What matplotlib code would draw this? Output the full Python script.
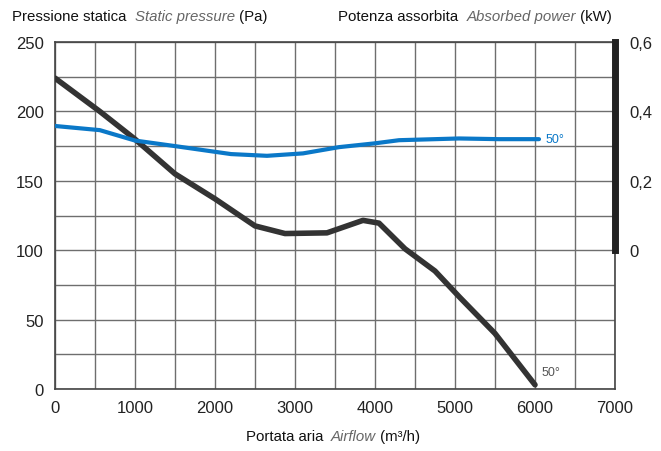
import matplotlib
matplotlib.use("Agg")
import matplotlib.pyplot as plt
from matplotlib import font_manager
from matplotlib.offsetbox import TextArea, HPacker, AnnotationBbox

# fan curve data
flow_pressure = [0, 560, 1000, 1500, 2000, 2500, 2875, 3400, 3850, 4050, 4375, 4750, 5060, 5500, 6000]
static_pressure = [224, 200, 180, 155, 137, 117.5, 112, 112.5, 121.5, 119.5, 101, 85, 66, 40, 3]

flow_power = [0, 560, 1000, 1500, 2200, 2650, 3100, 3550, 4000, 4300, 5050, 5550, 6050]
absorbed_power = [0.358, 0.346, 0.316, 0.300, 0.277, 0.272, 0.279, 0.297, 0.308, 0.317, 0.322, 0.320, 0.320]

x_ticks = [0, 1000, 2000, 3000, 4000, 5000, 6000, 7000]
p_ticks = [0, 50, 100, 150, 200, 250]
kw_ticks = [0, 0.2, 0.4, 0.6]
kw_labels = ["0", "0,2", "0,4", "0,6"]

names = {f.name for f in font_manager.fontManager.ttflist}
fam = "Liberation Sans Narrow" if "Liberation Sans Narrow" in names else "Liberation Sans"
narrow = fam == "Liberation Sans Narrow"
plt.rcParams['font.family'] = [fam, 'DejaVu Sans']

BLUE = "#0a78c8"
DARK = "#333333"
GRID = "#6e6e6e"
TITLE_SIZE = 13 if narrow else 10.8

fig = plt.figure(figsize=(6.61, 4.52), dpi=100)
ax = fig.add_axes([55 / 661, 62 / 452, 560 / 661, 347 / 452])

ax.set_xlim(0, 7000)
ax.set_ylim(0, 250)
ax.set_xticks(range(0, 7001, 500), minor=True)
ax.set_yticks(range(0, 251, 25), minor=True)
ax.set_xticks(x_ticks)
ax.set_yticks(p_ticks)
ax.grid(True, which='both', color=GRID, lw=1)
ax.tick_params(which='both', length=0, labelsize=12, colors="#222222")
ax.tick_params(axis='x', pad=8)
ax.tick_params(axis='y', pad=8)
for s in ax.spines.values():
    s.set_color("#444444")
    s.set_linewidth(1.2)

ax.plot(flow_pressure, static_pressure, color=DARK, lw=4, solid_capstyle='round', zorder=4)

# power axis: 0 kW at 100 Pa, 0.6 kW at 250 Pa
ax2 = ax.twinx()
ax2.set_ylim(-0.4, 0.6)
ax2.set_yticks(kw_ticks)
ax2.set_yticklabels(kw_labels)
ax2.tick_params(length=0, labelsize=12, pad=10, colors="#222222")
for k in ['top', 'bottom', 'left']:
    ax2.spines[k].set_visible(False)
ax2.spines['right'].set_bounds(0, 0.6)
ax2.spines['right'].set_linewidth(5)
ax2.spines['right'].set_color("#222222")

ax2.plot(flow_power, absorbed_power, color=BLUE, lw=3, solid_capstyle='round', zorder=4)
ax2.text(flow_power[-1] + 80, absorbed_power[-1], "50°", color=BLUE, fontsize=9, va='center', ha='left')
ax.text(flow_pressure[-1] + 80, static_pressure[-1] + 5, "50°", color="#555555", fontsize=9, va='bottom', ha='left')


def mixed_label(parts, xy, box_align):
    areas = []
    for txt, style, col in parts:
        areas.append(TextArea(txt, textprops=dict(fontsize=TITLE_SIZE, style=style, color=col, family=[fam, 'DejaVu Sans'])))
    pack = HPacker(children=areas, pad=0, sep=0, align='baseline')
    ab = AnnotationBbox(pack, xy, xycoords='figure pixels', box_alignment=box_align, frameon=False, pad=0)
    fig.add_artist(ab)


mixed_label([("Pressione statica  ", 'normal', "#111111"), ("Static pressure", 'italic', "#666666"), (" (Pa)", 'normal', "#111111")],
            (12, 452 - 17), (0, 0.5))
mixed_label([("Potenza assorbita  ", 'normal', "#111111"), ("Absorbed power", 'italic', "#666666"), (" (kW)", 'normal', "#111111")],
            (612, 452 - 17), (1, 0.5))
mixed_label([("Portata aria  ", 'normal', "#111111"), ("Airflow", 'italic', "#666666"), (" (m³/h)", 'normal', "#111111")],
            (333, 452 - 437), (0.5, 0.5))

fig.savefig("out.png", dpi=100)
